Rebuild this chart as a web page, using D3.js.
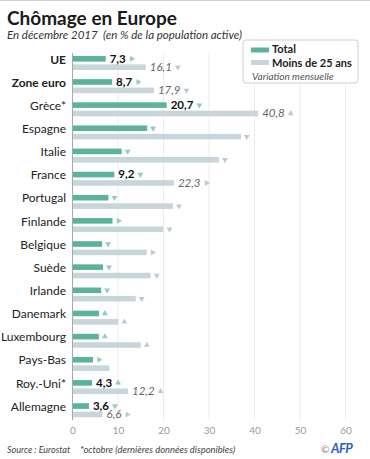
<!DOCTYPE html>
<html>
<head>
<meta charset="utf-8">
<script src="https://cdn.jsdelivr.net/npm/d3@7"></script>
<style>
  body { margin: 0; background: #fff; }
  svg { display: block; font-family: Lato, "Open Sans", sans-serif; }
</style>
</head>
<body>
<svg id="chart" width="370" height="459"></svg>
<script>
const countries = ["UE", "Zone euro", "Grèce*", "Espagne", "Italie", "France", "Portugal", "Finlande",
  "Belgique", "Suède", "Irlande", "Danemark", "Luxembourg", "Pays-Bas", "Roy.-Uni*", "Allemagne"];
const total = [7.3, 8.7, 20.7, 16.4, 10.8, 9.2, 7.9, 8.8, 6.5, 6.7, 6.3, 5.8, 5.8, 4.5, 4.3, 3.6];
const youth = [16.1, 17.9, 40.8, 37.0, 32.2, 22.3, 22.1, 20.0, 16.3, 17.2, 13.9, 10.1, 15.0, 8.1, 12.2, 6.6];
// monthly variation : up / down / right (stable)
const varTotal = ["right", "right", "down", "down", "down", "down", "down", "right",
  "down", "down", "down", "up", "up", "right", "up", "down"];
const varYouth = ["down", "down", "up", "down", "down", "right", "down", "down",
  "right", "down", "down", "up", "up", null, "up", "right"];
const labelled = ["UE", "Zone euro", "Grèce*", "France", "Roy.-Uni*", "Allemagne"];
const boldCountries = ["UE", "Zone euro"];
const ticks = [0, 10, 20, 30, 40, 50, 60];

const svg = d3.select('#chart');
const cTotal = '#5bb39b', cYouth = '#c8d5db';
const aTotal = '#93cdbb', aYouth = '#bfcad0';

const x = d3.scaleLinear().domain([0, 60]).range([72.5, 345.5]);
const y = d3.scaleBand().domain(countries).range([53, 53 + 16 * 23.15]);
const ySub = d3.scaleBand().domain(['total', 'youth']).range([3, 17]).paddingInner(0.333);

svg.append('line').attr('x1', 0).attr('x2', 370).attr('y1', 0.5).attr('y2', 0.5)
  .attr('stroke', '#d0d0d0');

// title
svg.append('text').attr('x', 7).attr('y', 25).attr('font-size', 19).attr('font-weight', 'bold')
  .attr('fill', '#1a1a1a').text('Chômage en Europe');
svg.append('text').attr('x', 7).attr('y', 38.5).attr('font-size', 11.5).attr('font-style', 'italic')
  .attr('fill', '#333').attr('xml:space', 'preserve')
  .text('En décembre 2017  (en % de la population active)');

// grid
svg.append('g').selectAll('line').data(ticks.slice(1)).enter().append('line')
  .attr('x1', d => x(d)).attr('x2', d => x(d))
  .attr('y1', 53).attr('y2', 420)
  .attr('stroke', '#ececec');

// axis ticks labels
const xAxis = d3.axisBottom(x).tickValues(ticks).tickSize(0).tickPadding(0);
const gx = svg.append('g').attr('transform', 'translate(0,427)').call(xAxis);
gx.select('.domain').remove();
gx.selectAll('text').attr('font-size', 10).attr('fill', '#9a9a9a').attr('font-family', 'Lato, sans-serif');

// legend box (covers the grid)
const leg = svg.append('g');
leg.append('rect').attr('x', 243).attr('y', 40).attr('width', 115).attr('height', 43).attr('rx', 3)
  .attr('fill', '#fff').attr('stroke', '#cfcfcf');
leg.append('rect').attr('x', 251).attr('y', 47.5).attr('width', 18).attr('height', 5).attr('fill', cTotal);
leg.append('rect').attr('x', 251).attr('y', 60).attr('width', 18).attr('height', 5).attr('fill', cYouth);
leg.append('text').attr('x', 272).attr('y', 53).attr('font-size', 11).attr('font-weight', 'bold')
  .attr('fill', '#222').text('Total');
leg.append('text').attr('x', 272).attr('y', 66.5).attr('font-size', 11).attr('font-weight', 'bold')
  .attr('fill', '#222').text('Moins de 25 ans');
leg.append('text').attr('x', 252).attr('y', 79.5).attr('font-size', 10).attr('font-style', 'italic')
  .attr('fill', '#555').text('Variation mensuelle');

const rows = countries.map((c, i) => ({
  c, total: total[i], youth: youth[i], vt: varTotal[i], vy: varYouth[i]
}));

const row = svg.append('g').selectAll('g').data(rows).enter().append('g')
  .attr('transform', d => `translate(0,${y(d.c)})`);

// country names
row.append('text').attr('x', 66).attr('y', 10.5).attr('text-anchor', 'end')
  .attr('font-size', 12).attr('fill', '#222')
  .attr('font-weight', d => boldCountries.includes(d.c) ? 'bold' : 'normal')
  .text(d => d.c);

row.append('rect').attr('x', x(0)).attr('y', ySub('total'))
  .attr('width', d => x(d.total) - x(0)).attr('height', ySub.bandwidth()).attr('fill', cTotal);
row.append('rect').attr('x', x(0)).attr('y', ySub('youth'))
  .attr('width', d => x(d.youth) - x(0)).attr('height', ySub.bandwidth()).attr('fill', cYouth);

const fmt = v => d3.format('.1f')(v).replace('.', ',');
const rot = { up: 0, right: 90, down: 180 };
const tri = d3.symbol(d3.symbolTriangle, 15);

function addSeries(key, dir, lblStyle, arrowColor) {
  const cy = ySub(key) + ySub.bandwidth() / 2;
  row.each(function (d) {
    const g = d3.select(this);
    let end = x(d[key]);
    if (labelled.includes(d.c)) {
      const t = g.append('text').attr('x', end + 4).attr('y', cy + 3.8)
        .attr('font-size', 11.5).text(fmt(d[key]));
      lblStyle(t);
      end = end + 4 + t.node().getComputedTextLength();
    }
    if (d[dir]) {
      g.append('path').attr('d', tri)
        .attr('transform', `translate(${end + 6},${cy}) rotate(${rot[d[dir]]})`)
        .attr('fill', arrowColor);
    }
  });
}
addSeries('total', 'vt', t => t.attr('font-weight', 'bold').attr('fill', '#111'), aTotal);
addSeries('youth', 'vy', t => t.attr('font-style', 'italic').attr('fill', '#666'), aYouth);

// zero axis line
svg.append('line').attr('x1', x(0)).attr('x2', x(0)).attr('y1', 53).attr('y2', 420)
  .attr('stroke', '#a8a8a8');

// footer
svg.append('text').attr('x', 7).attr('y', 453).attr('font-size', 9).attr('font-style', 'italic')
  .attr('fill', '#444').text('Source : Eurostat');
svg.append('text').attr('x', 80).attr('y', 453).attr('font-size', 9.4).attr('font-style', 'italic')
  .attr('fill', '#444').text('*octobre (dernières données disponibles)');
svg.append('text').attr('x', 321).attr('y', 453).attr('font-size', 10).attr('fill', '#888').text('©');
svg.append('text').attr('x', 331).attr('y', 453).attr('font-size', 13).attr('font-weight', 'bold')
  .attr('font-style', 'italic').attr('fill', '#2a5fc0').attr('letter-spacing', -0.5).text('AFP');
</script>
</body>
</html>
